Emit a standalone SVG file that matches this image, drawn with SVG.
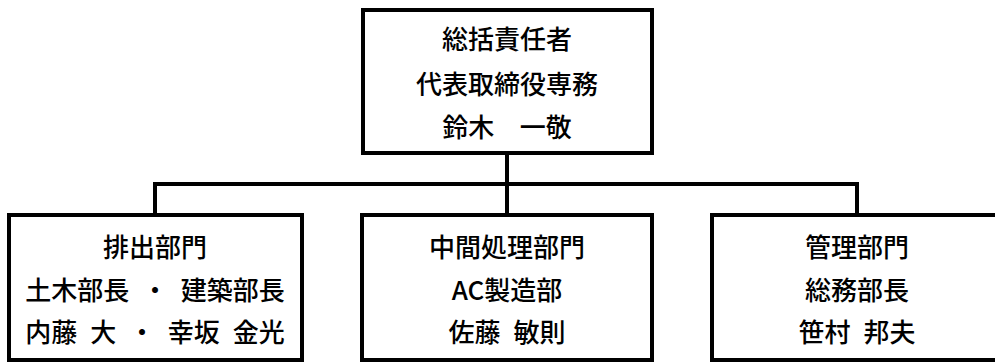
<svg xmlns="http://www.w3.org/2000/svg" width="995" height="362" viewBox="0 0 995 362">
<style>
.box{fill:#fff;stroke:#000;stroke-width:4}
.ln{fill:none;stroke:#000;stroke-width:4;stroke-linecap:square}
text{font-family:"Noto Sans CJK JP","Noto Sans CJK SC",sans-serif;font-size:26px;font-weight:500;fill:#000;text-anchor:middle;dominant-baseline:central;word-spacing:7px}
</style>
<rect width="995" height="362" fill="#fff"/>
<g id="connectors">
<path class="ln" d="M507 153V184M155 184H857M155 184V215M507 184V215M857 184V215"/>
</g>
<g id="top">
<rect class="box" x="363" y="10" width="289" height="143"/>
<text x="507" y="37">総括責任者</text>
<text x="507" y="82">代表取締役専務</text>
<text x="507" y="125" xml:space="preserve">鈴木  一敬</text>
</g>
<g id="haishutsu">
<rect class="box" x="9" y="215" width="293" height="145"/>
<text x="155" y="245">排出部門</text>
<text x="155" y="288" xml:space="preserve">土木部長 ・ 建築部長</text>
<text x="155" y="330" xml:space="preserve">内藤 大 ・ 幸坂 金光</text>
</g>
<g id="chukan">
<rect class="box" x="362" y="215" width="290" height="145"/>
<text x="507" y="245">中間処理部門</text>
<text x="507" y="288">AC製造部</text>
<text x="507" y="330" xml:space="preserve">佐藤 敏則</text>
</g>
<g id="kanri">
<rect class="box" x="712" y="215" width="300" height="145"/>
<text x="857" y="245">管理部門</text>
<text x="857" y="288">総務部長</text>
<text x="857" y="330" xml:space="preserve">笹村 邦夫</text>
</g>
</svg>
